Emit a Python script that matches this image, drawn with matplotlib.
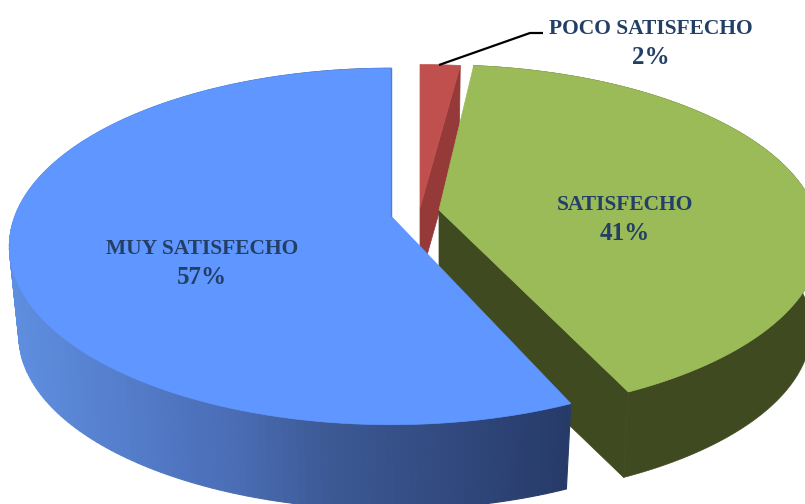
import numpy as np
from matplotlib import pyplot as plt
from matplotlib.colors import to_rgb

categories = ["MUY SATISFECHO", "SATISFECHO", "POCO SATISFECHO"]
percents = [57, 41, 2]

top_colors = ["#5f96ff", "#9bbb59", "#c0504d"]
wall_colors = ["#4f7fd4", "#3f4a20", "#953a38"]
apex_points = [(391, 216), (439, 210), (420, 208)]
label_points = [(202, 264), (625, 220), (651, 43)]

# fake 3d: disc seen in perspective, lower ring is a bit smaller and shifted down
rx = 376
ry_list = [173, 170, 168]
depth_list = [90, 90, 72]
# the original slices do not end exactly on the computed angle
end_shift = [-1.4, 1.0, 0]
persp = 0.171
shrink = 0.975
start_angle = 90

grad_x = [10, 230, 320, 570]
grad_colors = ["#5f8ee0", "#4a6db5", "#3d5a96", "#263a68"]


def project(apex, angle, ry, depth=None):
    u = np.cos(np.radians(angle))
    v = np.sin(np.radians(angle))
    d = 1 + persp * v
    x = rx * u / d
    y = -ry * v / d
    if depth is not None:
        return apex[0] + x * shrink, apex[1] + y * shrink + depth
    return apex[0] + x, apex[1] + y


def wall_color(x):
    stops = np.array([to_rgb(c) for c in grad_colors])
    return tuple(np.interp(x, grad_x, stops[:, k]) for k in range(3))


fig = plt.figure(figsize=(8.05, 5.04), dpi=100)
ax = fig.add_axes([0, 0, 1, 1])
ax.set_xlim(0, 805)
ax.set_ylim(504, 0)
ax.axis("off")

# slices run counter clockwise from the top
edges = [start_angle]
for p in percents:
    edges.append(edges[-1] + p * 3.6)

# red first, then green, blue goes on top
for i in [2, 1, 0]:
    a0 = edges[i]
    a1 = edges[i + 1] + end_shift[i]
    apex = apex_points[i]
    ry = ry_list[i]
    depth = depth_list[i]
    angles = np.linspace(a0, a1, 200)
    rim = [project(apex, a, ry) for a in angles]
    rim_low = [project(apex, a, ry, depth) for a in angles]
    apex_low = (apex[0], apex[1] + depth)

    if i == 0:
        # gradient along the front wall, light on the left, navy on the right
        for j in range(len(angles) - 1):
            quad = [rim[j], rim[j + 1], rim_low[j + 1], rim_low[j]]
            ax.fill(*zip(*quad), color=wall_color(rim[j][0]), lw=0.8)
        # thin sliver of the cut face at the top
        ax.plot([rim[0][0], apex[0]], [rim[0][1], apex[1]], color=wall_colors[i], lw=1)
    elif i == 1:
        ax.fill(*zip(apex, rim[0], rim_low[0], apex_low), color=wall_colors[i], lw=0.5)
        ax.fill(*zip(*(rim + rim_low[::-1])), color=wall_colors[i], lw=0.5)
    else:
        # cut face on the right side of the red slice
        ax.fill(*zip(apex, rim[0], rim_low[0], apex_low), color=wall_colors[i], lw=0.5)

    ax.fill(*zip(*([apex] + rim)), color=top_colors[i], lw=0.5)

# leader line of the small slice
ax.plot([439, 530, 543], [65, 33, 33], color="black", lw=1.6, solid_capstyle="butt")

# names and percents apart, the digits are bigger in the original
for name, pct, pos in zip(categories, percents, label_points):
    ax.text(pos[0], pos[1] - 14.5, name, ha="center", va="center",
            family="Liberation Serif", weight="bold", fontsize=15.5, color="#243f66")
    ax.text(pos[0], pos[1] + 14, str(pct) + "%", ha="center", va="center",
            family="Liberation Serif", weight="bold", fontsize=18, color="#243f66")

plt.savefig("out.png", dpi=100)
